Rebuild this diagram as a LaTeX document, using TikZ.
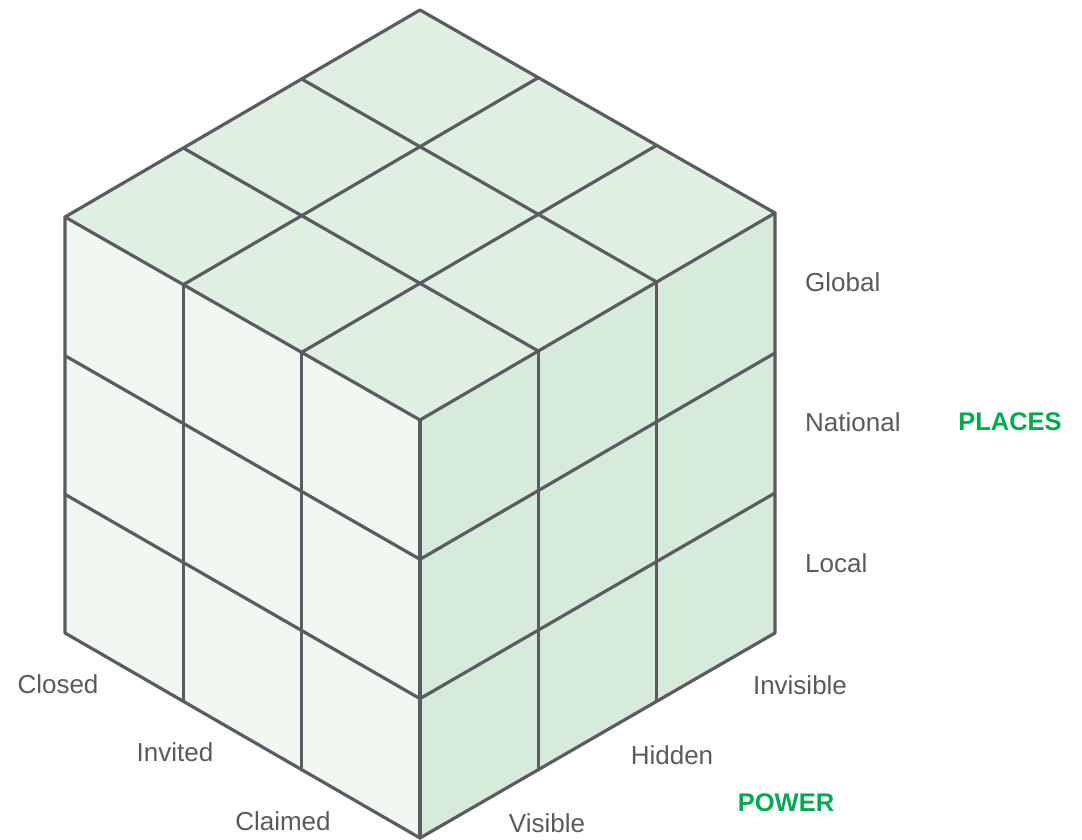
\documentclass[tikz,border=0pt]{standalone}
\usepackage{fontspec}
\setmainfont{Liberation Sans}
\usetikzlibrary{calc}
\definecolor{edgegray}{HTML}{5B5B61}
\definecolor{txtgray}{HTML}{5A5A5E}
\definecolor{topfill}{HTML}{DFF0E3}
\definecolor{leftfill}{HTML}{F1F8F2}
\definecolor{rightfill}{HTML}{D6EBD9}
\definecolor{accgreen}{HTML}{00A84F}
\tikzset{
  edge/.style={draw=edgegray, line width=3.2pt, line join=round, line cap=round},
  lab/.style={text=txtgray, font=\fontsize{26}{30}\selectfont, inner sep=0pt},
  axis/.style={text=accgreen, font=\fontsize{25.5}{30}\selectfont\bfseries, inner sep=0pt}
}
\begin{document}
\begin{tikzpicture}[x=1pt,y=-1pt]
\useasboundingbox (0,0) rectangle (1082,840);
\coordinate (T) at (420,10);
\coordinate (L) at (65,217);
\coordinate (R) at (775,213);
\coordinate (C) at (420,420);
\coordinate (BL) at (65,633);
\coordinate (B) at (420,838);
\coordinate (BR) at (775,633);
% faces
\fill[topfill] (T) -- (R) -- (C) -- (L) -- cycle;
\fill[leftfill] (L) -- (C) -- (B) -- (BL) -- cycle;
\fill[rightfill] (C) -- (R) -- (BR) -- (B) -- cycle;
% grid lines
\foreach \k in {1/3,2/3}{
  \draw[edge] ($(C)!\k!(L)$) -- ($(R)!\k!(T)$);
  \draw[edge] ($(C)!\k!(R)$) -- ($(L)!\k!(T)$);
  \draw[edge] ($(C)!\k!(L)$) -- ($(B)!\k!(BL)$);
  \draw[edge] ($(C)!\k!(B)$) -- ($(L)!\k!(BL)$);
  \draw[edge] ($(C)!\k!(R)$) -- ($(B)!\k!(BR)$);
  \draw[edge] ($(C)!\k!(B)$) -- ($(R)!\k!(BR)$);
}
% outline
\draw[edge] (T) -- (R) -- (BR) -- (B) -- (BL) -- (L) -- cycle;
\draw[edge] (L) -- (C) -- (R);
\draw[edge] (C) -- (B);
% labels
\node[lab, anchor=west] (global) at (805,282) {Global};
\node[lab, anchor=west] (national) at (805,422) {National};
\node[lab, anchor=west] (local) at (805,563) {Local};
\node[axis] (places) at (1010,422) {PLACES};
\node[lab] (invisible) at (800,685) {Invisible};
\node[lab] (hidden) at (672,755) {Hidden};
\node[lab] (visible) at (547,823) {Visible};
\node[axis] (power) at (786,803) {POWER};
\node[lab] (closed) at (58,684) {Closed};
\node[lab] (invited) at (175,752) {Invited};
\node[lab] (claimed) at (283,821) {Claimed};
\end{tikzpicture}
\end{document}
